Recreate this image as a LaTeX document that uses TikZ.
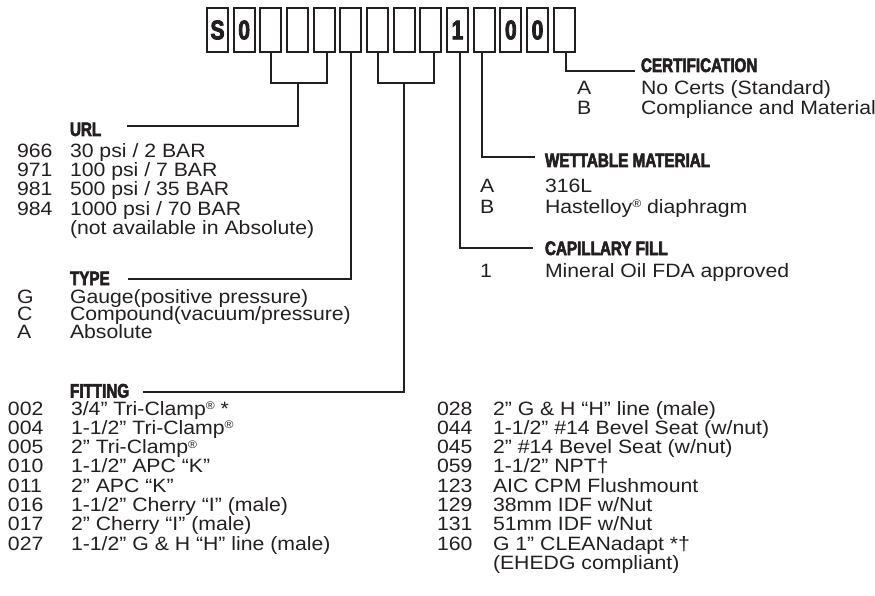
\documentclass[tikz,border=0pt]{standalone}
\usepackage{fontspec}
\setmainfont{Liberation Sans}
\newfontfamily\bodyfont{Liberation Sans}[FakeStretch=1.1]
\newfontfamily\headfont{Liberation Sans Bold}[FakeStretch=0.78,FakeBold=3]
\definecolor{ink}{HTML}{231F20}
\newcommand\regmark{\raisebox{5.5pt}{\fontsize{11}{11}\selectfont ®}}
\begin{document}
\begin{tikzpicture}[x=1pt,y=-1pt,
  every node/.style={inner sep=0pt, outer sep=0pt, text=ink},
  digitbox/.style={draw=ink, line width=2.2pt, minimum width=21pt, minimum height=44pt, font=\headfont\fontsize{27}{27}\selectfont},
  conn/.style={draw=ink, line width=2pt},
  head/.style={anchor=base west, text height=14pt, text depth=0pt, font=\headfont\fontsize{19.5}{19.5}\selectfont},
  item/.style={anchor=base west, text height=13pt, text depth=3pt, font=\bodyfont\fontsize{19.3}{19.3}\selectfont},
]
\useasboundingbox (0,0) rectangle (875,596);
% code boxes
\foreach \i/\t in {1/S,2/0,3/,4/,5/,6/,7/,8/,9/,10/1,11/,12/0,13/0,14/}
  \node[digitbox] (b\i) at ({217.5+(\i-1)*26.667},30) {\t};
% free ends of the connectors
\coordinate (urlend) at (127,126);
\coordinate (typeend) at (128,279);
\coordinate (fitend) at (143,391.5);
\coordinate (capend) at (533,248);
\coordinate (wetend) at (535,157);
\coordinate (certend) at (635,71.5);
% connectors
\draw[conn] (b3.south) -- ++(0,31) -| ([xshift=3pt]b5.south);
\draw[conn] (b4.south |- 0,83) |- (urlend);
\draw[conn] (b6.south) |- (typeend);
\draw[conn] (b7.south) -- ++(0,31) -| ([xshift=3pt]b9.south);
\draw[conn] (b8.south |- 0,83) |- (fitend);
\draw[conn] ([xshift=2.5pt]b10.south) |- (capend);
\draw[conn] ([xshift=-2pt]b11.south) |- (wetend);
\draw[conn] ([xshift=2pt]b14.south) |- (certend);
% headings
\node[head] (hurl) at (70,136) {URL};
\node[head] (htype) at (70,285) {TYPE};
\node[head] (hfit) at (70,397.5) {FITTING};
\node[head] (hcert) at (641,72) {CERTIFICATION};
\node[head] (hwet) at (545,167) {WETTABLE MATERIAL};
\node[head] (hcap) at (545,255) {CAPILLARY FILL};
% URL
\node[item] (u1c) at (17,158) {966}; \node[item] (u1t) at (70,158) {30 psi / 2 BAR};
\node[item] (u2c) at (17,177) {971}; \node[item] (u2t) at (70,177) {100 psi / 7 BAR};
\node[item] (u3c) at (17,196) {981}; \node[item] (u3t) at (70,196) {500 psi / 35 BAR};
\node[item] (u4c) at (17,215) {984}; \node[item] (u4t) at (70,215) {1000 psi / 70 BAR};
\node[item] (u5t) at (70,234) {(not available in Absolute)};
% TYPE
\node[item] (t1c) at (17,303) {G}; \node[item] (t1t) at (70,303) {Gauge(positive pressure)};
\node[item] (t2c) at (17,320.5) {C}; \node[item] (t2t) at (70,320.5) {Compound(vacuum/pressure)};
\node[item] (t3c) at (17,338) {A}; \node[item] (t3t) at (70,338) {Absolute};
% FITTING left
\node[item] (f1c) at (8,415) {002}; \node[item] (f1t) at (71,415) {3/4” Tri-Clamp\regmark{} *};
\node[item] (f2c) at (8,434.3) {004}; \node[item] (f2t) at (71,434.3) {1-1/2” Tri-Clamp\regmark};
\node[item] (f3c) at (8,453.6) {005}; \node[item] (f3t) at (71,453.6) {2” Tri-Clamp\regmark};
\node[item] (f4c) at (8,472.9) {010}; \node[item] (f4t) at (71,472.9) {1-1/2” APC “K”};
\node[item] (f5c) at (8,492.2) {011}; \node[item] (f5t) at (71,492.2) {2” APC “K”};
\node[item] (f6c) at (8,511.5) {016}; \node[item] (f6t) at (71,511.5) {1-1/2” Cherry “I” (male)};
\node[item] (f7c) at (8,530.8) {017}; \node[item] (f7t) at (71,530.8) {2” Cherry “I” (male)};
\node[item] (f8c) at (8,550.1) {027}; \node[item] (f8t) at (71,550.1) {1-1/2” G \& H “H” line (male)};
% FITTING right
\node[item] (g1c) at (437,415) {028}; \node[item] (g1t) at (493,415) {2” G \& H “H” line (male)};
\node[item] (g2c) at (437,434.3) {044}; \node[item] (g2t) at (493,434.3) {1-1/2” \#14 Bevel Seat (w/nut)};
\node[item] (g3c) at (437,453.6) {045}; \node[item] (g3t) at (493,453.6) {2” \#14 Bevel Seat (w/nut)};
\node[item] (g4c) at (437,472.9) {059}; \node[item] (g4t) at (493,472.9) {1-1/2” NPT†};
\node[item] (g5c) at (437,492.2) {123}; \node[item] (g5t) at (493,492.2) {AIC CPM Flushmount};
\node[item] (g6c) at (437,511.5) {129}; \node[item] (g6t) at (493,511.5) {38mm IDF w/Nut};
\node[item] (g7c) at (437,530.8) {131}; \node[item] (g7t) at (493,530.8) {51mm IDF w/Nut};
\node[item] (g8c) at (437,550.1) {160}; \node[item] (g8t) at (493,550.1) {G 1” CLEANadapt *†};
\node[item] (g9t) at (493,569.4) {(EHEDG compliant)};
% CERTIFICATION
\node[item] (c1c) at (577,95) {A}; \node[item] (c1t) at (641,95) {No Certs (Standard)};
\node[item] (c2c) at (577,115) {B}; \node[item] (c2t) at (641,115) {Compliance and Material};
% WETTABLE MATERIAL
\node[item] (w1c) at (480,193) {A}; \node[item] (w1t) at (545,193) {316L};
\node[item] (w2c) at (480,213) {B}; \node[item] (w2t) at (545,213) {Hastelloy\regmark{} diaphragm};
% CAPILLARY FILL
\node[item] (p1c) at (480,277) {1}; \node[item] (p1t) at (545,277) {Mineral Oil FDA approved};
\end{tikzpicture}
\end{document}
